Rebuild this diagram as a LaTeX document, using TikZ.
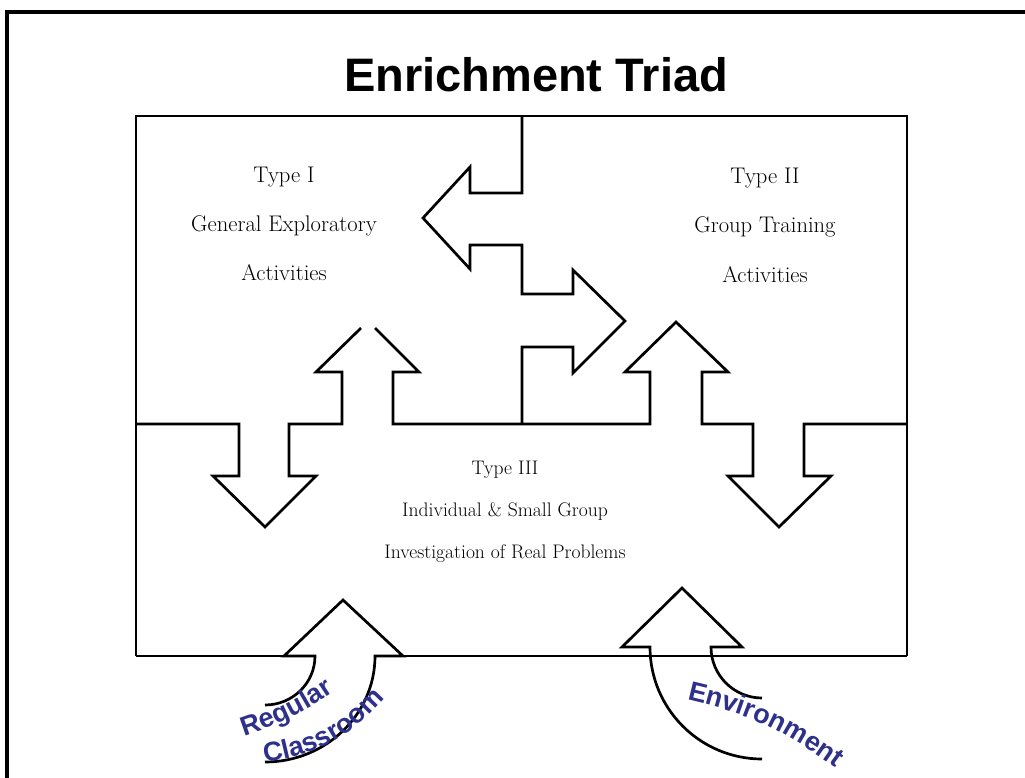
\documentclass[tikz,border=0pt]{standalone}
\usepackage{fontspec}
\newfontfamily\arialfont{Liberation Sans}
\usetikzlibrary{decorations.text}
\definecolor{rcblue}{RGB}{46,49,140}
\newcommand\bluelab{\arialfont\bfseries\fontsize{27}{27}\selectfont\color{rcblue}}
\begin{document}
\begin{tikzpicture}[x=1pt,y=1pt,
  outline/.style={line width=2.7pt, line join=miter},
  framebar/.style={line width=3.4pt},
  bigtext/.style={anchor=base, inner sep=0pt, font=\fontsize{22.6}{24}\selectfont},
  smalltext/.style={anchor=base, inner sep=0pt, font=\fontsize{19.6}{21}\selectfont},
  bluetext/.style={decorate, decoration={text along path, text align=center}}
]
\useasboundingbox (0,0) rectangle (1025,-778);
% outer frame (cropped)
\draw[framebar] (7,-778) -- (7,-12) -- (1025,-12);
% title
\node[anchor=base, inner sep=0pt, font=\arialfont\bfseries\fontsize{47}{49}\selectfont] (title) at (536,-92) {Enrichment Triad};
% main box outline
\draw[outline] (136,-656) -- (136,-116) -- (907,-116) -- (907,-656);
% vertical divider with left and right arrows
\draw[outline] (522,-116) -- (522,-193) -- (470,-193) -- (470,-167) -- (423,-218)
  -- (470,-269) -- (470,-245) -- (522,-245) -- (522,-294) -- (573,-294) -- (573,-270)
  -- (625,-321) -- (573,-373) -- (573,-347) -- (522,-347) -- (522,-424);
% horizontal divider with up and down arrows
\draw[outline] (136,-424) -- (239,-424) -- (239,-476) -- (213,-476) -- (265,-527)
  -- (316,-476) -- (289,-476) -- (289,-424) -- (342,-424) -- (342,-372) -- (316,-372)
  -- (361,-328) (375,-328) -- (419,-372) -- (393,-372) -- (393,-424) -- (650,-424)
  -- (650,-372) -- (625,-372) -- (676,-322) -- (728,-372) -- (702,-372) -- (702,-424)
  -- (753,-424) -- (753,-476) -- (728,-476) -- (779,-527) -- (831,-476) -- (804,-476)
  -- (804,-424) -- (907,-424);
% bottom line
\draw[outline] (136,-656) -- (284,-656);
\draw[outline] (403,-656) -- (907,-656);
% Regular Classroom arrow
\draw[outline] (265,-705) arc[start angle=270, end angle=360, x radius=50, y radius=49]
  -- (284,-656) -- (343,-600) -- (403,-656) -- (375,-656)
  arc[start angle=0, end angle=-90, x radius=110, y radius=106];
% Environment arrow
\draw[outline] (762,-698) arc[start angle=270, end angle=180, radius=51]
  -- (742,-647) -- (682,-588) -- (622,-647) -- (650,-647)
  arc[start angle=180, end angle=270, radius=112];
% texts
\node[bigtext] (t1a) at (284,-183) {Type I};
\node[bigtext] (t1b) at (284,-232) {General Exploratory};
\node[bigtext] (t1c) at (284,-280) {Activities};
\node[bigtext] (t2a) at (765,-184) {Type II};
\node[bigtext] (t2b) at (765,-233) {Group Training};
\node[bigtext] (t2c) at (765,-282) {Activities};
\node[smalltext] (t3a) at (505,-474) {Type III};
\node[smalltext] (t3b) at (505,-516) {Individual \& Small Group};
\node[smalltext] (t3c) at (505,-558) {Investigation of Real Problems};
% curved blue labels
\path[bluetext, decoration={text={|\bluelab|Regular}}] (241,-737) to[bend right=8] (337,-690);
\path[bluetext, decoration={text={|\bluelab|Classroom}}] (263,-763) to[bend right=20] (386,-697);
\path[bluetext, decoration={text={|\bluelab|Environment}}] (684,-699) to[bend left=12] (838,-770);
\end{tikzpicture}
\end{document}
